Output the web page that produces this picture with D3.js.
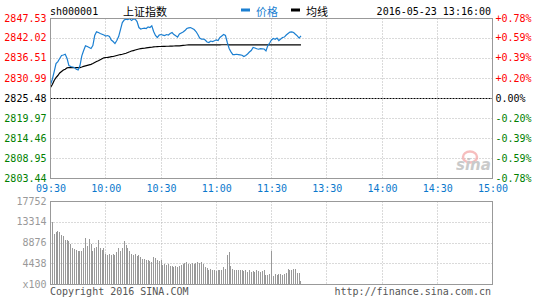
<!DOCTYPE html>
<html>
<head>
<meta charset="utf-8">
<script src="https://cdn.jsdelivr.net/npm/d3@7"></script>
<style>
  body { margin: 0; background: #fff; }
  svg { display: block; }
  text { font-family: "DejaVu Sans Mono", "Liberation Mono", monospace; font-size: 10px; }
  .cjk { font-family: "Noto Sans CJK SC", sans-serif; font-size: 11px; }
</style>
</head>
<body>
<div id="chart"></div>
<script>
var symbol = "sh000001";
var title = "上证指数";
var stamp = "2016-05-23 13:16:00";

var priceTicks = [2847.53, 2842.02, 2836.51, 2830.99, 2825.48, 2819.97, 2814.46, 2808.95, 2803.44];
var pctTicks = ["+0.78%", "+0.59%", "+0.39%", "+0.20%", "0.00%", "-0.20%", "-0.39%", "-0.59%", "-0.78%"];
var timeTicks = [0, 30, 60, 90, 120, 150, 180, 210, 240];
var timeLabels = ["09:30", "10:00", "10:30", "11:00", "11:30", "13:30", "14:00", "14:30", "15:00"];
var volTicks = [17752, 13314, 8876, 4438, 0];

// one value per minute, 09:30 .. 11:30/13:00 .. 13:16
var prices = [
  2829.34, 2830.80, 2832.92, 2835.12, 2835.67, 2836.50, 2837.33, 2837.46, 2837.68, 2836.50,
  2834.57, 2834.30, 2834.16, 2834.02, 2833.55, 2833.33, 2834.57, 2837.24, 2838.70, 2840.00,
  2839.81, 2839.53, 2839.26, 2840.08, 2842.84, 2843.86, 2843.66, 2843.39, 2843.19, 2842.97,
  2842.70, 2842.84, 2842.56, 2841.60, 2841.18, 2840.63, 2841.46, 2842.56, 2844.49, 2846.42,
  2847.11, 2847.33, 2847.24, 2847.52, 2846.97, 2847.38, 2847.38, 2846.69, 2845.04, 2844.63,
  2844.77, 2844.90, 2844.77, 2845.23, 2845.04, 2845.51, 2843.94, 2842.84, 2842.29, 2842.97,
  2843.11, 2842.97, 2842.84, 2843.11, 2842.97, 2843.39, 2843.66, 2843.11, 2842.75, 2842.42,
  2843.25, 2843.53, 2843.80, 2844.21, 2844.77, 2844.96, 2845.04, 2844.77, 2844.49, 2843.94,
  2843.11, 2842.15, 2841.82, 2841.87, 2841.60, 2841.05, 2840.91, 2841.32, 2841.18, 2841.38,
  2841.65, 2841.46, 2842.29, 2842.70, 2843.11, 2842.84, 2840.91, 2839.26, 2838.35, 2837.60,
  2837.60, 2837.68, 2837.60, 2837.52, 2837.41, 2837.05, 2837.33, 2837.74, 2838.29, 2838.70,
  2839.53, 2839.39, 2839.20, 2839.06, 2839.20, 2839.17, 2839.12, 2838.62, 2840.08, 2840.77,
  2841.60, 2842.01, 2841.82, 2842.15, 2841.46, 2841.87, 2842.29, 2842.42, 2842.97, 2843.39,
  2843.80, 2843.86, 2843.66, 2843.19, 2842.75, 2842.15, 2842.75
];

var avgPrices = [
  2828.51, 2829.34, 2830.44, 2831.27, 2831.82, 2832.51, 2832.92, 2833.33, 2833.55, 2833.94,
  2834.02, 2834.02, 2834.02, 2834.02, 2834.02, 2834.02, 2834.02, 2834.16, 2834.35, 2834.49,
  2834.63, 2834.76, 2834.90, 2835.12, 2835.40, 2835.67, 2835.87, 2836.14, 2836.42, 2836.69,
  2836.78, 2836.83, 2836.91, 2837.00, 2837.05, 2837.19, 2837.33, 2837.46, 2837.60, 2837.68,
  2837.82, 2837.96, 2838.15, 2838.35, 2838.57, 2838.70, 2838.84, 2838.98, 2839.12, 2839.23,
  2839.28, 2839.34, 2839.42, 2839.50, 2839.56, 2839.61, 2839.72, 2839.75, 2839.78, 2839.81,
  2839.81, 2839.86, 2839.86, 2839.89, 2839.89, 2839.92, 2839.92, 2839.95, 2839.97, 2840.00,
  2840.00, 2840.05, 2840.11, 2840.16, 2840.22, 2840.27, 2840.27, 2840.27, 2840.27, 2840.27,
  2840.27, 2840.27, 2840.27, 2840.28, 2840.28, 2840.28, 2840.28, 2840.28, 2840.28, 2840.28,
  2840.28, 2840.28, 2840.28, 2840.29, 2840.29, 2840.30, 2840.29, 2840.28, 2840.27, 2840.27,
  2840.26, 2840.26, 2840.25, 2840.25, 2840.25, 2840.24, 2840.24, 2840.24, 2840.24, 2840.24,
  2840.24, 2840.24, 2840.24, 2840.24, 2840.24, 2840.24, 2840.24, 2840.24, 2840.24, 2840.24,
  2840.25, 2840.25, 2840.25, 2840.25, 2840.25, 2840.25, 2840.25, 2840.25, 2840.26, 2840.26,
  2840.26, 2840.26, 2840.27, 2840.27, 2840.27, 2840.27, 2840.27
];

var volumes = [
  11715, 13350, 10860, 11150, 11360, 11150, 10650, 10440, 9585, 9585,
  9370, 8730, 7810, 7600, 7455, 7100, 7100, 7100, 7810, 9940,
  8165, 9730, 8730, 7100, 7810, 8020, 9585, 7810, 7310, 7810,
  6600, 6390, 6600, 6390, 6600, 6390, 6890, 7810, 7100, 7810,
  9230, 8520, 7810, 7100, 6600, 6390, 6600, 6035, 6390, 5890,
  5470, 5470, 5325, 5180, 4970, 4760, 5890, 5610, 5325, 4970,
  5180, 4260, 4400, 4260, 4400, 3905, 4050, 3760, 4050, 3760,
  4050, 4260, 4470, 4615, 4760, 4470, 4400, 4615, 4470, 4615,
  4760, 4615, 4760, 4470, 3760, 3550, 3195, 3340, 3050, 3050,
  2840, 3050, 3195, 3050, 3760, 3340, 6390, 6890, 4050, 3340,
  3195, 3195, 3195, 3050, 3195, 2840, 3050, 2630, 3050, 2630,
  2840, 2630, 3050, 2840, 2630, 2840, 3050, 2130, 2130, 2340,
  7100, 1920, 2340, 2130, 2340, 2340, 2130, 2340, 2480, 3340,
  3050, 3195, 3340, 3340, 2480, 2480, 710
];

var W = 545, H = 300;
var left = 50.5, right = 492.5;
var pTop = 18.5, pBottom = 178.5;
var vTop = 201.5, vBottom = 284.5;

var grayAxis = "#999999";
var gridColor = "#b4b4b4";
var blue = "#1b7fd1";
var labelBlue = "#0a78cc";
var up = "#ff0000", down = "#008000";

var svg = d3.select("#chart").append("svg")
  .attr("width", W)
  .attr("height", H);

var x = d3.scaleLinear().domain([0, 240]).range([left, right]);
var y = d3.scaleLinear().domain([priceTicks[8], priceTicks[0]]).range([pBottom, pTop]);
var yv = d3.scaleLinear().domain([0, volTicks[0]]).range([vBottom, vTop]);

function crisp(v) { return Math.floor(v) + 0.5; }

function tickColor(i) {
  if (i < 4) return up;
  if (i > 4) return down;
  return "#000";
}

// ---- grid: price panel
var grid = svg.append("g");

grid.selectAll(".hgrid")
  .data(priceTicks.slice(1, 8))
  .enter().append("line")
  .attr("x1", left).attr("x2", right)
  .attr("y1", function(d) { return crisp(y(d)); })
  .attr("y2", function(d) { return crisp(y(d)); })
  .attr("stroke", function(d, i) { return i === 3 ? "#000" : gridColor; })
  .attr("stroke-dasharray", function(d, i) { return i === 3 ? "2,1" : "1,2"; });

grid.selectAll(".vgrid")
  .data(timeTicks.slice(1, 8))
  .enter().append("line")
  .attr("x1", function(d) { return crisp(x(d)); })
  .attr("x2", function(d) { return crisp(x(d)); })
  .attr("y1", pTop).attr("y2", pBottom)
  .attr("stroke", gridColor)
  .attr("stroke-dasharray", "1,2");

// ---- grid: volume panel
grid.selectAll(".vhgrid")
  .data(volTicks.slice(1, 4))
  .enter().append("line")
  .attr("x1", left).attr("x2", right)
  .attr("y1", function(d) { return crisp(yv(d)); })
  .attr("y2", function(d) { return crisp(yv(d)); })
  .attr("stroke", gridColor)
  .attr("stroke-dasharray", "1,2");

grid.selectAll(".vvgrid")
  .data(timeTicks.slice(1, 8))
  .enter().append("line")
  .attr("x1", function(d) { return crisp(x(d)); })
  .attr("x2", function(d) { return crisp(x(d)); })
  .attr("y1", vTop).attr("y2", vBottom)
  .attr("stroke", gridColor)
  .attr("stroke-dasharray", "1,2");

// ---- sina watermark
var mark = svg.append("g").attr("opacity", 0.75);
mark.append("ellipse")
  .attr("cx", 470).attr("cy", 157).attr("rx", 7).attr("ry", 5.5)
  .attr("fill", "none").attr("stroke", "#f4a9a9").attr("stroke-width", 2.5);
mark.append("text")
  .attr("x", 456).attr("y", 170)
  .style("font-family", "'DejaVu Sans', sans-serif")
  .style("font-size", "15px")
  .style("font-style", "italic")
  .style("font-weight", "bold")
  .attr("fill", "#b9b9b9")
  .text("sina");

// ---- volume bars
svg.append("g")
  .selectAll("rect")
  .data(volumes)
  .enter().append("rect")
  .attr("x", function(d, i) { return Math.floor(x(i)); })
  .attr("width", 1)
  .attr("y", function(d) { return Math.round(yv(d)); })
  .attr("height", function(d) { return Math.max(0, vBottom - Math.round(yv(d))); })
  .attr("fill", "#999999");

// ---- lines
var line = d3.line()
  .x(function(d, i) { return x(i); })
  .y(function(d) { return y(d); });

svg.append("path")
  .datum(avgPrices)
  .attr("d", line)
  .attr("fill", "none")
  .attr("stroke", "#000")
  .attr("stroke-width", 1.2);

svg.append("path")
  .datum(prices)
  .attr("d", line)
  .attr("fill", "none")
  .attr("stroke", blue)
  .attr("stroke-width", 1.2);

// ---- frames
svg.append("rect")
  .attr("x", left).attr("y", pTop)
  .attr("width", right - left).attr("height", pBottom - pTop)
  .attr("fill", "none").attr("stroke", grayAxis);

svg.append("rect")
  .attr("x", left).attr("y", vTop)
  .attr("width", right - left).attr("height", vBottom - vTop)
  .attr("fill", "none").attr("stroke", grayAxis);

// ---- axes
svg.append("g")
  .attr("transform", "translate(" + left + ",0)")
  .call(d3.axisLeft(y).tickValues(priceTicks).tickSize(0).tickPadding(4).tickFormat(d3.format(".2f")))
  .call(function(g) { g.select(".domain").remove(); })
  .selectAll("text")
  .attr("dy", "0.25em")
  .attr("fill", function(d, i) { return tickColor(i); });

svg.append("g")
  .attr("transform", "translate(" + right + ",0)")
  .call(d3.axisRight(y).tickValues(priceTicks).tickSize(0).tickPadding(3)
    .tickFormat(function(d, i) { return pctTicks[i]; }))
  .call(function(g) { g.select(".domain").remove(); })
  .selectAll("text")
  .attr("dy", "0.25em")
  .attr("fill", function(d, i) { return tickColor(i); });

svg.append("g")
  .attr("transform", "translate(0," + pBottom + ")")
  .call(d3.axisBottom(x).tickValues(timeTicks).tickSize(0).tickPadding(6)
    .tickFormat(function(d, i) { return timeLabels[i]; }))
  .call(function(g) { g.select(".domain").remove(); })
  .selectAll("text")
  .attr("fill", labelBlue);

svg.append("g")
  .attr("transform", "translate(" + left + ",0)")
  .call(d3.axisLeft(yv).tickValues(volTicks).tickSize(0).tickPadding(4)
    .tickFormat(function(d) { return d === 0 ? "x100" : d; }))
  .call(function(g) { g.select(".domain").remove(); })
  .selectAll("text")
  .attr("dy", "0.25em")
  .attr("fill", "#999999");

// ---- header
svg.append("text").attr("x", 50).attr("y", 15).attr("fill", "#000").text(symbol);
svg.append("text").attr("class", "cjk").attr("x", 123).attr("y", 16).attr("fill", "#000").text(title);

var legend = svg.append("g");
legend.append("rect").attr("x", 241).attr("y", 8.5).attr("width", 9).attr("height", 3).attr("fill", blue);
legend.append("text").attr("class", "cjk").attr("x", 256).attr("y", 16).attr("fill", blue).text("价格");
legend.append("rect").attr("x", 291).attr("y", 8.5).attr("width", 9).attr("height", 3).attr("fill", "#000");
legend.append("text").attr("class", "cjk").attr("x", 306).attr("y", 16).attr("fill", "#000").text("均线");

svg.append("text").attr("x", 491).attr("y", 15).attr("text-anchor", "end").attr("fill", "#000").text(stamp);

// ---- footer
svg.append("text").attr("x", 50).attr("y", 295).attr("fill", "#555").text("Copyright 2016 SINA.COM");
svg.append("text").attr("x", 491).attr("y", 295).attr("text-anchor", "end").attr("fill", "#555").text("http://finance.sina.com.cn");
</script>
</body>
</html>
